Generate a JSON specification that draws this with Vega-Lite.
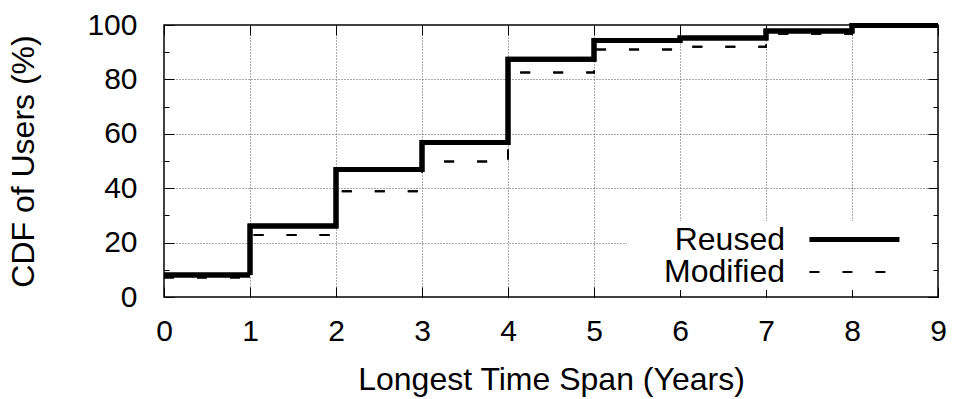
{
  "$schema": "https://vega.github.io/schema/vega-lite/v6.json",
  "width": 774,
  "height": 272,
  "autosize": {"type": "none"},
  "padding": {"left": 164, "top": 25, "right": 16, "bottom": 102},
  "background": "white",
  "config": {
    "font": "Liberation Sans",
    "view": {"stroke": "black", "strokeWidth": 1.5},
    "axis": {
      "labelFont": "Liberation Sans",
      "titleFont": "Liberation Sans",
      "labelFontSize": 30,
      "titleFontSize": 32,
      "titleFontWeight": "normal",
      "labelColor": "black",
      "titleColor": "black",
      "tickColor": "black",
      "tickWidth": 1,
      "domain": false,
      "labelFlush": false,
      "labelOverlap": false,
      "gridColor": "#555",
      "gridDash": [1, 2],
      "gridWidth": 1
    }
  },
  "data": {
    "values": [
      {"series": "Modified", "years": 0, "cdf": 7.2},
      {"series": "Modified", "years": 1, "cdf": 22.8},
      {"series": "Modified", "years": 2, "cdf": 38.9},
      {"series": "Modified", "years": 3, "cdf": 49.8},
      {"series": "Modified", "years": 4, "cdf": 82.5},
      {"series": "Modified", "years": 5, "cdf": 91.0},
      {"series": "Modified", "years": 6, "cdf": 92.0},
      {"series": "Modified", "years": 7, "cdf": 96.8},
      {"series": "Modified", "years": 8, "cdf": 99.8},
      {"series": "Modified", "years": 9, "cdf": 99.8},
      {"series": "Reused", "years": 0, "cdf": 8.1},
      {"series": "Reused", "years": 1, "cdf": 26.1},
      {"series": "Reused", "years": 2, "cdf": 46.9},
      {"series": "Reused", "years": 3, "cdf": 56.8},
      {"series": "Reused", "years": 4, "cdf": 87.4},
      {"series": "Reused", "years": 5, "cdf": 94.3},
      {"series": "Reused", "years": 6, "cdf": 95.2},
      {"series": "Reused", "years": 7, "cdf": 97.8},
      {"series": "Reused", "years": 8, "cdf": 99.8},
      {"series": "Reused", "years": 9, "cdf": 99.8}
    ]
  },
  "layer": [
    {
      "mark": {"type": "line", "interpolate": "step-after", "color": "black", "strokeCap": "butt"},
      "encoding": {
        "x": {
          "field": "years", "type": "quantitative",
          "scale": {"domain": [0, 9], "nice": false},
          "axis": {
            "orient": "bottom", "values": [0,1,2,3,4,5,6,7,8,9],
            "grid": true, "tickSize": -10, "labelPadding": 29,
            "title": "Longest Time Span (Years)", "titlePadding": 18
          }
        },
        "y": {
          "field": "cdf", "type": "quantitative",
          "scale": {"domain": [0, 100], "nice": false},
          "axis": {
            "orient": "left", "values": [0,10,20,30,40,50,60,70,80,90,100],
            "labelExpr": "datum.value % 20 === 0 ? datum.label : ''",
            "grid": true,
            "gridOpacity": {"condition": {"test": "datum.value % 20 === 0", "value": 1}, "value": 0},
            "tickSize": {"condition": {"test": "datum.value % 20 === 0", "value": -10}, "value": -5},
            "labelPadding": 37,
            "title": "CDF of Users (%)", "titlePadding": 46
          }
        },
        "strokeDash": {
          "field": "series", "type": "nominal",
          "scale": {"domain": ["Reused", "Modified"], "range": [[1, 0], [10, 23]]},
          "legend": {
            "title": null, "orient": "none", "legendX": 463, "legendY": 196,
            "symbolType": "M11.71,0H18.14M19.57,0", "symbolSize": 784, "symbolStrokeColor": "black",
            "labelAlign": "right", "labelOffset": 123, "labelFontSize": 32,
            "labelFont": "Liberation Sans", "labelColor": "black", "rowPadding": 0,
            "fillColor": "white", "padding": 2
          }
        },
        "strokeWidth": {
          "field": "series", "type": "nominal",
          "scale": {"domain": ["Reused", "Modified"], "range": [5, 2]},
          "legend": {
            "title": null, "orient": "none", "legendX": 463, "legendY": 196,
            "symbolType": "M11.71,0H18.14M19.57,0", "symbolSize": 784, "symbolStrokeColor": "black",
            "labelAlign": "right", "labelOffset": 123, "labelFontSize": 32,
            "labelFont": "Liberation Sans", "labelColor": "black", "rowPadding": 0,
            "fillColor": "white", "padding": 2
          }
        }
      }
    },
    {
      "mark": {"type": "line", "interpolate": "step-after", "color": "black", "strokeCap": "butt"},
      "encoding": {
        "x": {
          "field": "years", "type": "quantitative",
          "axis": {"orient": "top", "values": [0,1,2,3,4,5,6,7,8,9], "labels": false, "grid": false, "tickSize": -10, "title": null}
        },
        "y": {
          "field": "cdf", "type": "quantitative",
          "axis": {
            "orient": "right", "values": [0,10,20,30,40,50,60,70,80,90,100], "labels": false, "grid": false, "title": null,
            "tickSize": {"condition": {"test": "datum.value % 20 === 0", "value": -10}, "value": -5}
          }
        },
        "strokeDash": {"field": "series", "type": "nominal"},
        "strokeWidth": {"field": "series", "type": "nominal"}
      }
    }
  ],
  "resolve": {"axis": {"x": "independent", "y": "independent"}}
}
